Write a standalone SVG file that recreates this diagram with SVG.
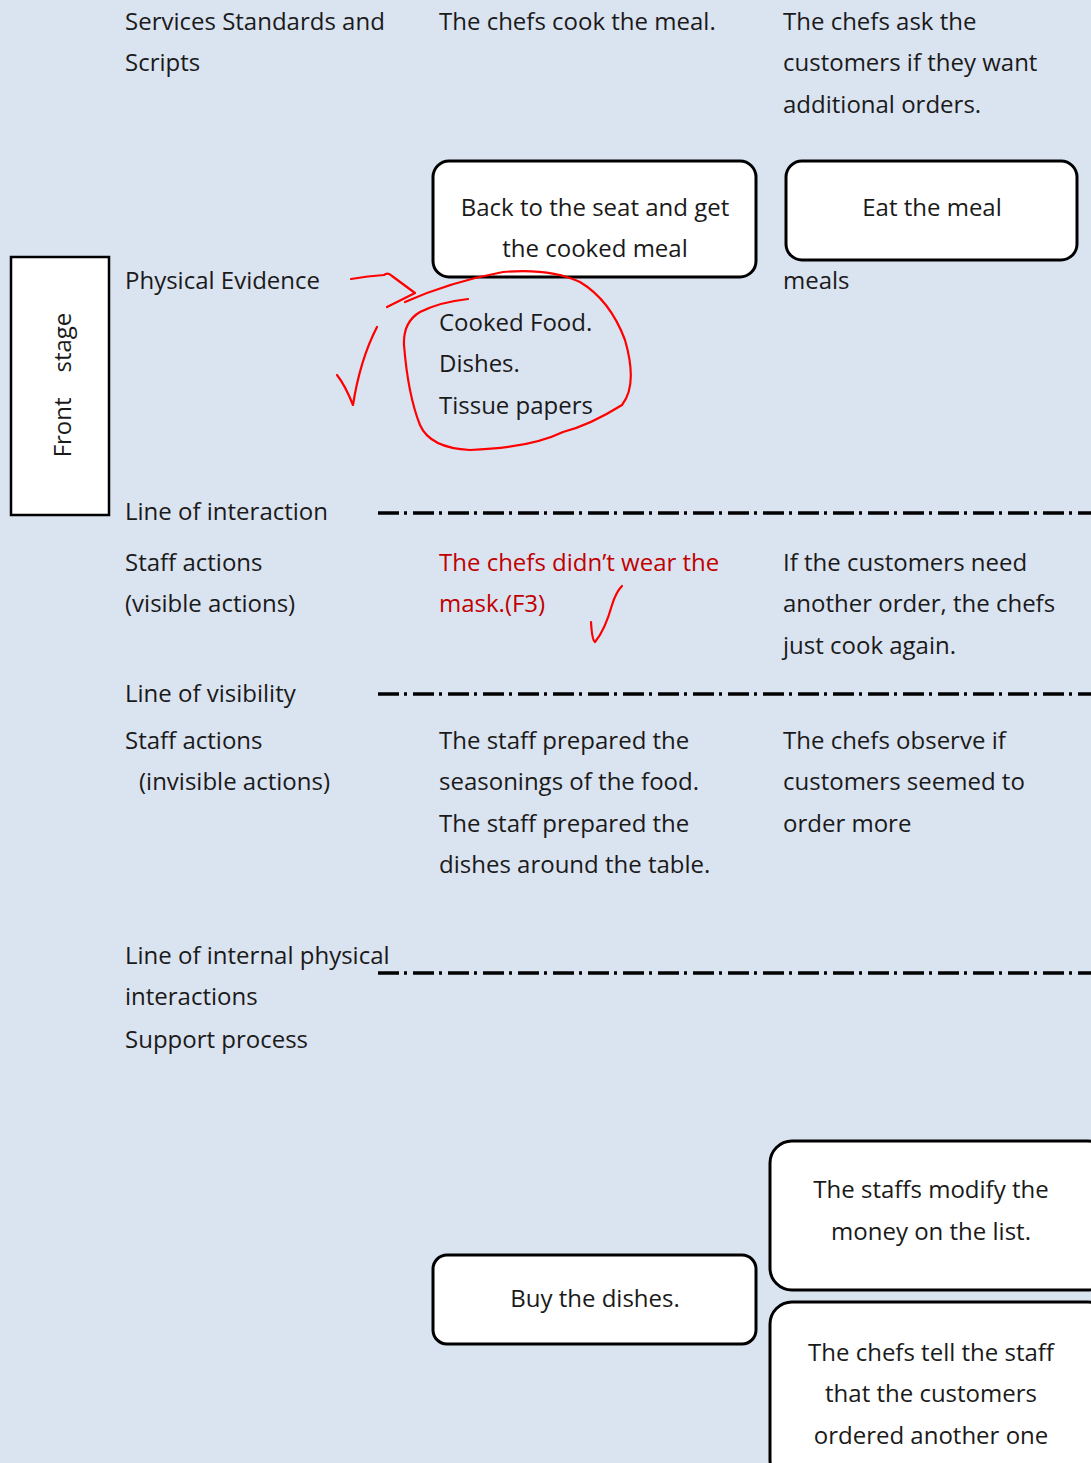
<svg xmlns="http://www.w3.org/2000/svg" width="1091" height="1463" viewBox="0 0 1091 1463">
<style>
text{font-family:"Open Sans","Liberation Sans",sans-serif;font-size:24px;fill:#1a1a1a}
.c{text-anchor:middle}
.red{fill:#c00000}
.box{fill:#fff;stroke:#000;stroke-width:3}
.dd{stroke:#000;stroke-width:3.5;stroke-dasharray:21 5 3 6;fill:none}
.ink{fill:none;stroke:#f00;stroke-width:2.2;stroke-linecap:round;stroke-linejoin:round}
</style>
<rect width="1091" height="1463" fill="#dae3f0"/>
<g id="labels">
<text x="125" y="30">Services Standards and</text>
<text x="125" y="71">Scripts</text>
<text x="125" y="289">Physical Evidence</text>
<text x="125" y="520">Line of interaction</text>
<text x="125" y="571">Staff actions</text>
<text x="125" y="612">(visible actions)</text>
<text x="125" y="702">Line of visibility</text>
<text x="125" y="749">Staff actions</text>
<text x="139" y="790">(invisible actions)</text>
<text x="125" y="964">Line of internal physical</text>
<text x="125" y="1005">interactions</text>
<text x="125" y="1048">Support process</text>
</g>
<g id="front-stage">
<rect x="11" y="257" width="98" height="258" fill="#fff" stroke="#000" stroke-width="2.5"/>
<text class="c" transform="translate(71,385) rotate(-90)" xml:space="preserve">Front    stage</text>
</g>
<g id="col2-text">
<text x="439" y="30">The chefs cook the meal.</text>
<text x="439" y="331">Cooked Food.</text>
<text x="439" y="372">Dishes.</text>
<text x="439" y="414">Tissue papers</text>
<text class="red" x="439" y="571">The chefs didn’t wear the</text>
<text class="red" x="439" y="612">mask.(F3)</text>
<text x="439" y="749">The staff prepared the</text>
<text x="439" y="790">seasonings of the food.</text>
<text x="439" y="832">The staff prepared the</text>
<text x="439" y="873">dishes around the table.</text>
</g>
<g id="col3-text">
<text x="783" y="30">The chefs ask the</text>
<text x="783" y="71">customers if they want</text>
<text x="783" y="113">additional orders.</text>
<text x="783" y="289">meals</text>
<text x="783" y="571">If the customers need</text>
<text x="783" y="612">another order, the chefs</text>
<text x="783" y="654">just cook again.</text>
<text x="783" y="749">The chefs observe if</text>
<text x="783" y="790">customers seemed to</text>
<text x="783" y="832">order more</text>
</g>
<g id="node-back-to-seat">
<rect class="box" x="433" y="161" width="323" height="116" rx="16"/>
<text class="c" x="595" y="216">Back to the seat and get</text>
<text class="c" x="595" y="257">the cooked meal</text>
</g>
<g id="node-eat-meal">
<rect class="box" x="786" y="161" width="291" height="99" rx="16"/>
<text class="c" x="932" y="216">Eat the meal</text>
</g>
<g id="node-buy-dishes">
<rect class="box" x="433" y="1255" width="323" height="89" rx="14"/>
<text class="c" x="595" y="1307">Buy the dishes.</text>
</g>
<g id="node-modify-money">
<rect class="box" x="770" y="1141" width="340" height="149" rx="22"/>
<text class="c" x="931" y="1198">The staffs modify the</text>
<text class="c" x="931" y="1240">money on the list.</text>
</g>
<g id="node-chefs-tell">
<rect class="box" x="770" y="1302" width="340" height="180" rx="22"/>
<text class="c" x="931" y="1361">The chefs tell the staff</text>
<text class="c" x="931" y="1402">that the customers</text>
<text class="c" x="931" y="1444">ordered another one</text>
</g>
<g id="connectors">
<line class="dd" x1="378" y1="513" x2="1091" y2="513"/>
<line class="dd" x1="378" y1="694" x2="1091" y2="694"/>
<line class="dd" x1="378" y1="973" x2="1091" y2="973"/>
</g>
<g id="annotations">
<path class="ink" d="M351,279 Q368,276 384,275 Q388,272 392,276 L415,293 L387,307"/>
<path class="ink" d="M405,302 Q450,282 503,272 Q550,268 580,282 Q610,300 625,340 Q638,385 622,405 Q590,425 563,432 Q530,448 470,450 Q430,448 420,425 Q408,395 404,345 Q403,322 420,312 Q440,302 468,299"/>
<path class="ink" d="M377,327 Q360,360 353,405 Q345,385 337,375"/>
<path class="ink" d="M591,622 Q592,640 595,642 Q605,630 612,605 Q616,592 622,586"/>
</g>
</svg>
